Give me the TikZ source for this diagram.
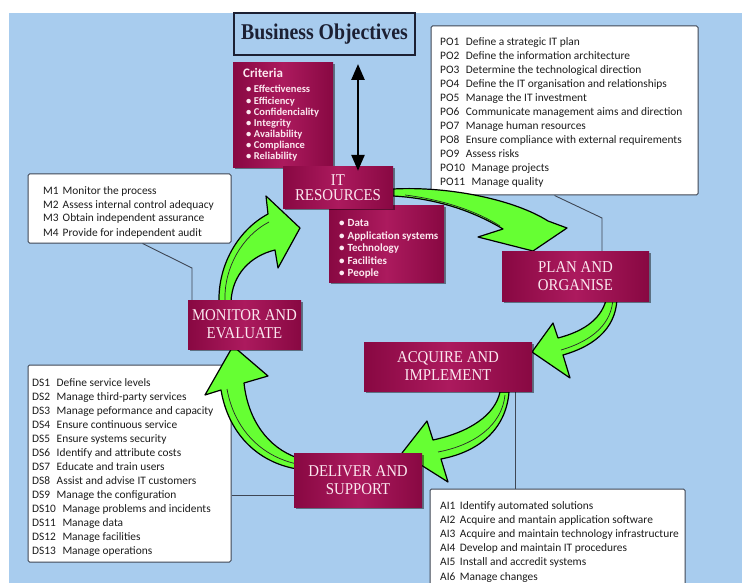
\documentclass[tikz,border=0pt]{standalone}
\usepackage{fontspec}
\setmainfont{Liberation Serif}
\newfontfamily\listfont{Carlito}
\newfontfamily\headfont[FakeStretch=0.9]{Liberation Serif}
\newfontfamily\bofont[FakeStretch=0.88]{Liberation Serif}
\usetikzlibrary{arrows.meta,shadows,calc}

\definecolor{skyblue}{RGB}{168,204,238}
\definecolor{crimedge}{RGB}{136,8,66}
\definecolor{crimmid}{RGB}{172,26,94}
\definecolor{pinktext}{RGB}{252,232,240}
\definecolor{arrowgreen}{RGB}{102,255,51}
\definecolor{framegray}{RGB}{62,70,84}
\definecolor{listink}{RGB}{28,28,28}
\definecolor{boink}{RGB}{28,32,51}

\tikzset{
  crimbox/.style={left color=crimedge, right color=crimedge, middle color=crimmid,
    drop shadow={shadow xshift=1.5pt,shadow yshift=-1.5pt,opacity=0.45,fill=black},
    inner sep=0pt},
  headtext/.style={text=pinktext, align=center,
    font=\headfont\fontsize{16.5}{18}\selectfont},
  listbox/.style={draw=framegray, line width=1pt, fill=white,
    rounded corners=1.5pt, inner sep=0pt},
  listline/.style={anchor=base west, inner sep=0pt, text=listink,
    font=\listfont\fontsize{11.4}{14}\selectfont},
  critline/.style={anchor=base west, inner sep=0pt, text=pinktext,
    font=\listfont\bfseries\fontsize{10.5}{11}\selectfont},
  pointer/.style={draw=framegray, line width=0.9pt},
  greenarrow/.style={fill=arrowgreen, draw=black, line width=1.2pt, line join=round},
  ridge/.style={draw=black!85, line width=0.7pt},
  dblarrow/.style={line width=2.6pt, draw=black,
    {Triangle[width=13pt,length=16pt]}-{Triangle[width=13pt,length=16pt]}},
}

\begin{document}
\begin{tikzpicture}[x=1pt,y=-1pt]
  \clip (0,0) rectangle (742,583);
  \fill[white] (0,0) rectangle (742,583);
  \fill[skyblue] (9,13) rectangle (742,583);

  % business objectives
  \node[draw=boink, line width=2pt, fill=skyblue, minimum width=181pt,
        minimum height=42pt, inner sep=0pt, text=boink,
        font=\bofont\bfseries\fontsize{22.5}{24}\selectfont]
        (bo) at (324.5,34) {Business Objectives};

  % criteria panel
  \node[crimbox, minimum width=100pt, minimum height=105pt] (crit) at (283,115.5) {};
  \node[critline, font=\listfont\bfseries\fontsize{13}{14}\selectfont]
        (crittitle) at (243,77.5) {Criteria};
  \foreach \t [count=\i] in {Effectiveness,Efficiency,Confidenciality,Integrity,
                             Availability,Compliance,Reliability}
    \node[critline] (crit\i) at (246,{93+11.1*(\i-1)})
          {\textbullet\hspace{2.5pt}\t};

  % resources panel
  \node[crimbox, minimum width=115pt, minimum height=77pt] (res) at (386.5,243.5) {};
  \foreach \t [count=\i] in {Data,Application systems,Technology,Facilities,People}
    \node[critline, font=\listfont\bfseries\fontsize{11}{12}\selectfont]
          (res\i) at (339,{226.5+12.6*(\i-1)}) {\textbullet\hspace{3pt}\t};

  % list boxes
  \node[listbox, minimum width=267pt, minimum height=169pt] (po) at (564.5,110.5) {};
  \foreach \t [count=\i] in {Define a strategic IT plan,
      Define the information architecture,
      Determine the technological direction,
      Define the IT organisation and relationships,
      Manage the IT investment,
      Communicate management aims and direction,
      Manage human resources,
      Ensure compliance with external requirements,
      Assess risks,
      Manage projects,
      Manage quality}
    \node[listline] (po\i) at (440,{45.5+14*(\i-1)}) {PO\i\hspace{6.5pt}\t};

  \node[listbox, minimum width=203pt, minimum height=69pt] (mbox) at (129.5,208.5) {};
  \foreach \t [count=\i] in {Monitor the process,
      Assess internal control adequacy,
      Obtain independent assurance,
      Provide for independent audit}
    \node[listline] (m\i) at (43,{194+14*(\i-1)}) {M\i\hspace{4pt}\t};

  \node[listbox, minimum width=203pt, minimum height=197pt] (dsbox) at (129.5,463.5) {};
  \foreach \t [count=\i] in {Define service levels,
      Manage third-party services,
      Manage peformance and capacity,
      Ensure continuous service,
      Ensure systems security,
      Identify and attribute costs,
      Educate and train users,
      Assist and advise IT customers,
      Manage the configuration,
      Manage problems and incidents,
      Manage data,
      Manage facilities,
      Manage operations}
    \node[listline] (ds\i) at (32,{386.5+14.04*(\i-1)}) {DS\i\hspace{6.5pt}\t};

  \node[listbox, minimum width=255pt, minimum height=111pt] (aibox) at (557.5,544.5) {};
  \foreach \t [count=\i] in {Identify automated solutions,
      Acquire and mantain application software,
      Acquire and maintain technology infrastructure,
      Develop and maintain IT procedures,
      Install and accredit systems,
      Manage changes}
    \node[listline] (ai\i) at (440,{509+14.2*(\i-1)}) {AI\i\hspace{4.5pt}\t};

  % process boxes (positions; drawn with their labels after the arrows)
  \node[minimum width=147pt, minimum height=50pt, inner sep=0pt] (plan) at (575.5,276) {};
  \node[minimum width=168pt, minimum height=49pt, inner sep=0pt] (acquire) at (448,366.5) {};
  \node[minimum width=128pt, minimum height=54pt, inner sep=0pt] (deliver) at (358,480) {};
  \node[minimum width=113pt, minimum height=49pt, inner sep=0pt] (monitor) at (244.5,324.5) {};

  % callout pointers from the lists to their processes
  \coordinate (pobend) at (602,218);
  \coordinate (mbend) at (192,268);
  \coordinate (aidrop) at (515,0);
  \coordinate (dsline) at (0,495);
  \draw[pointer] ($(po.south west)+(124,0)$) -- (pobend) -- (pobend |- plan.north);
  \draw[pointer] ($(mbox.south west)+(115,0)$) -- (mbend) -- (mbend |- monitor.north);
  \draw[pointer] (acquire.south -| aidrop) -- (aibox.north -| aidrop);
  \draw[pointer] (dsbox.east |- dsline) -- (deliver.west |- dsline);

  % cycle arrows
  \draw[greenarrow] (393,189) .. controls (450,186) and (515,200) .. (548,221)
        -- (567,228) -- (533,251) -- (478,237) -- (503,229)
        .. controls (468,208) and (430,198) .. (393,196) -- cycle;
  \draw[ridge] (405,195) .. controls (445,200) and (478,212) .. (500,226);

  \draw[greenarrow] (607,296) .. controls (603,318) and (585,331) .. (558,338)
        -- (553,323) -- (532,352) -- (570,378) -- (563,355)
        .. controls (598,345) and (618,325) .. (617,294) -- cycle;
  \draw[ridge] (613,298) .. controls (612,322) and (595,340) .. (561,350);

  \draw[greenarrow] (500,392) .. controls (495,415) and (470,432) .. (433,440)
        -- (427,421) -- (402,453) -- (448,482) -- (441,459)
        .. controls (478,452) and (506,430) .. (509,392) -- cycle;
  \draw[ridge] (505,395) .. controls (502,425) and (475,445) .. (438,452);

  \draw[greenarrow] (298,458) .. controls (268,448) and (248,420) .. (244,383)
        -- (268,376) -- (233,346) -- (205,395) -- (221,390)
        .. controls (228,432) and (256,462) .. (297,469) -- cycle;
  \draw[ridge] (227,389) .. controls (234,428) and (260,456) .. (297,464);

  \draw[greenarrow] (219,302) .. controls (218,265) and (238,230) .. (268,214)
        -- (266,196) -- (300,228) -- (278,268) -- (275,250)
        .. controls (250,256) and (232,275) .. (231,302) -- cycle;
  \draw[ridge] (225,300) .. controls (224,268) and (242,236) .. (269,222);

  % process boxes over the arrow tails
  \node[crimbox, headtext, minimum width=147pt, minimum height=50pt]
        (plantext) at (plan) {PLAN AND\\ORGANISE};
  \node[crimbox, headtext, minimum width=168pt, minimum height=49pt]
        (acquiretext) at (acquire) {ACQUIRE AND\\IMPLEMENT};
  \node[crimbox, headtext, minimum width=128pt, minimum height=54pt]
        (delivertext) at (deliver) {DELIVER AND\\SUPPORT};
  \node[crimbox, headtext, minimum width=113pt, minimum height=49pt]
        (monitortext) at (monitor) {MONITOR AND\\EVALUATE};

  % IT resources
  \node[crimbox, headtext, font=\headfont\fontsize{16.5}{15}\selectfont,
        minimum width=110pt, minimum height=41pt]
        (itres) at (338,187.5) {IT\\RESOURCES};

  % link between objectives and resources
  \coordinate (axis) at (358,0);
  \draw[dblarrow, shorten <=8pt, shorten >=-4pt] (bo.south -| axis) -- (itres.north -| axis);
\end{tikzpicture}
\end{document}
